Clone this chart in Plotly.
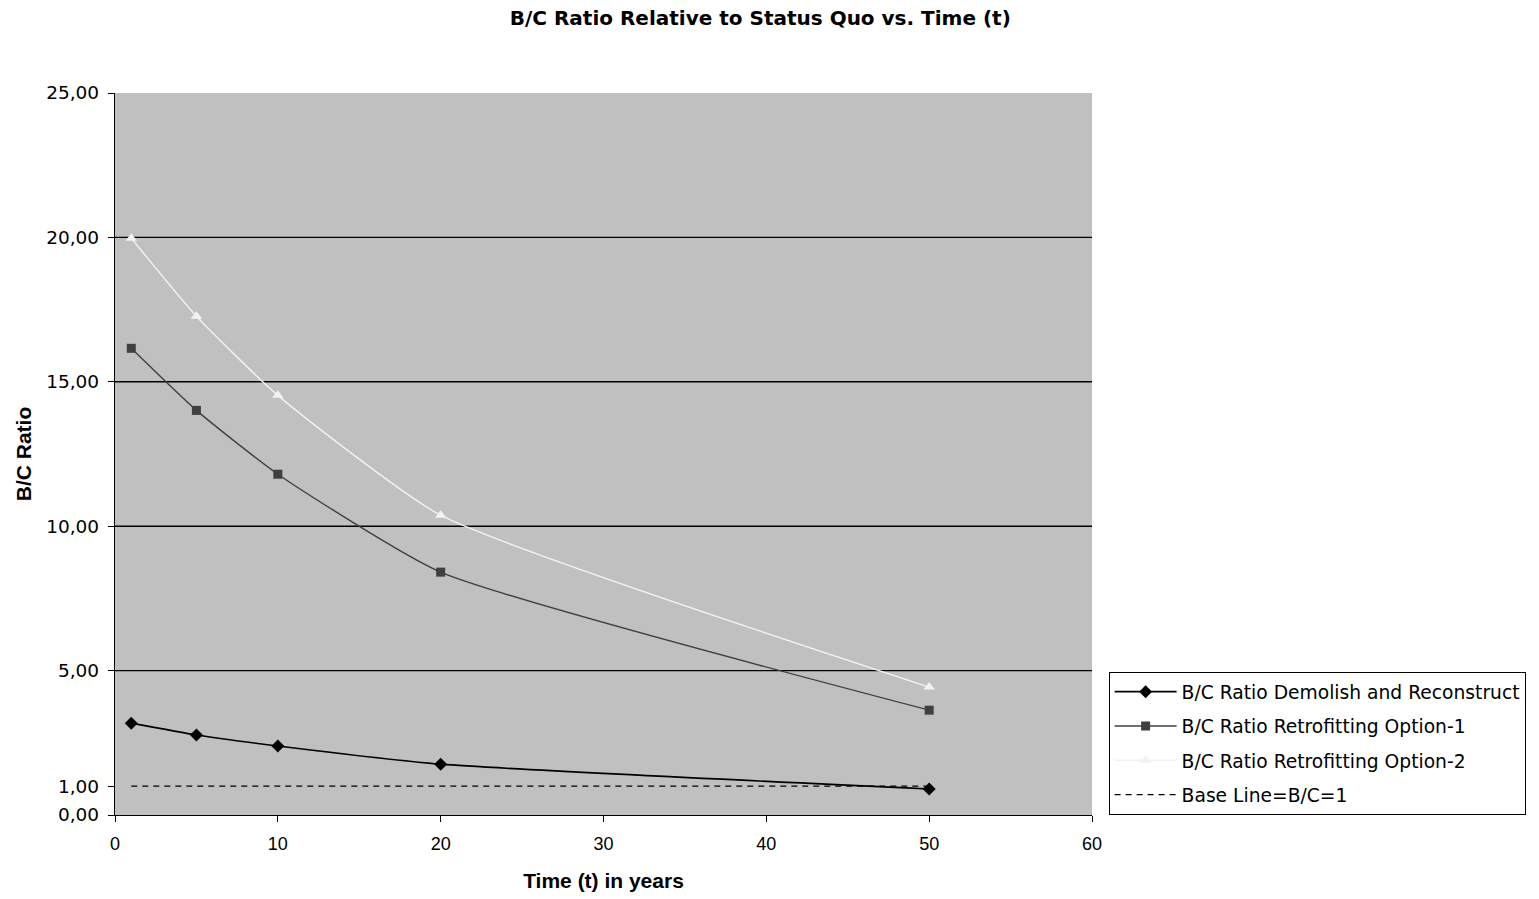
import plotly.graph_objects as go

t_years = [1, 5, 10, 20, 50]
demolish = [3.18, 2.77, 2.39, 1.76, 0.90]
retro1 = [16.16, 14.01, 11.80, 8.41, 3.63]
retro2 = [19.97, 17.27, 14.53, 10.38, 4.43]
base_x = [1, 50]
base_y = [1, 1]

y_ticks = [0, 1, 5, 10, 15, 20, 25]
y_tick_labels = ["0,00", "1,00", "5,00", "10,00", "15,00", "20,00", "25,00"]
grid_y = [5, 10, 15, 20]

ARIAL = "Liberation Sans, Arial, sans-serif"
WIDE = "DejaVu Sans, Verdana, sans-serif"

fig = go.Figure()
fig.add_trace(go.Scatter(
    x=t_years, y=demolish, mode="lines+markers",
    name="B/C Ratio Demolish and Reconstruct", legendgroup="a",
    line=dict(color="black", width=1.6, shape="spline", smoothing=0.5),
    marker=dict(symbol="diamond", size=10, color="black")))
fig.add_trace(go.Scatter(
    x=t_years, y=retro1, mode="lines+markers",
    name="B/C Ratio Retrofitting Option-1", legendgroup="b",
    line=dict(color="#404040", width=1.4, shape="spline", smoothing=0.5),
    marker=dict(symbol="square", size=9, color="#404040")))
fig.add_trace(go.Scatter(
    x=t_years, y=retro2, mode="lines+markers",
    name="B/C Ratio Retrofitting Option-2", legendgroup="c",
    line=dict(color="#F2F2F2", width=1.4, shape="spline", smoothing=0.5),
    marker=dict(symbol="triangle-up", size=10, color="#F2F2F2")))
fig.add_trace(go.Scatter(
    x=base_x, y=base_y, mode="lines",
    name="Base Line=B/C=1", legendgroup="d",
    line=dict(color="black", width=1.4, dash="6px,5px")))

for gy in grid_y:
    fig.add_shape(type="line", xref="paper", x0=0, x1=1, yref="y", y0=gy, y1=gy,
                  line=dict(color="black", width=1.4), layer="below")

fig.update_layout(
    width=1539, height=899,
    margin=dict(l=115, r=447, t=93, b=84, autoexpand=False),
    paper_bgcolor="white", plot_bgcolor="#C0C0C0",
    font=dict(family=ARIAL, size=18, color="black"),
    title=dict(text="<b>B/C Ratio Relative to Status Quo vs. Time (t)</b>",
               x=0.494, xanchor="center", y=1 - 18 / 899, yanchor="middle",
               font=dict(family=WIDE, size=20)),
    showlegend=True,
    legend=dict(x=1.017, xanchor="left", y=0, yanchor="bottom",
                bgcolor="white", bordercolor="black", borderwidth=1,
                font=dict(family=WIDE, size=18.7),
                itemwidth=62,
                traceorder="grouped", tracegroupgap=7),
    xaxis=dict(range=[0, 60], dtick=10, tick0=0, showgrid=False, zeroline=False,
               showline=True, linecolor="black", linewidth=1.3,
               ticks="outside", ticklen=6, tickcolor="black",
               ticklabelstandoff=6, automargin=False,
               tickfont=dict(family=ARIAL, size=18),
               title=dict(text="<b>Time (t) in years</b>", font=dict(family=ARIAL, size=21),
                          standoff=20)),
    yaxis=dict(range=[0, 25], tickvals=y_ticks, ticktext=y_tick_labels,
               showgrid=False, zeroline=False,
               showline=True, linecolor="black", linewidth=1.3,
               ticks="outside", ticklen=6, tickcolor="black",
               ticklabelstandoff=5, automargin=False,
               tickfont=dict(family=WIDE, size=18.5),
               title=dict(text="<b>B/C Ratio</b>", font=dict(family=ARIAL, size=21),
                          standoff=8)),
)

fig.write_html("out.html")
